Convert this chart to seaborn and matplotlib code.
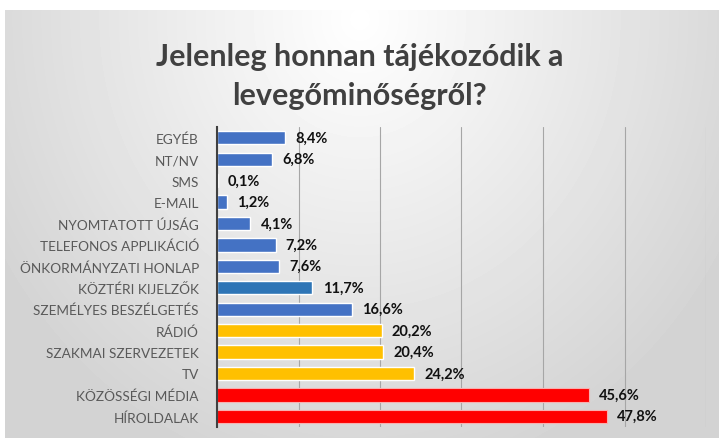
import numpy as np
import pandas as pd
import matplotlib.pyplot as plt
import seaborn as sns

# Survey data (top to bottom, as shown)
categories = ["EGYÉB", "NT/NV", "SMS", "E-MAIL", "NYOMTATOTT ÚJSÁG",
              "TELEFONOS APPLIKÁCIÓ", "ÖNKORMÁNYZATI HONLAP", "KÖZTÉRI KIJELZŐK",
              "SZEMÉLYES BESZÉLGETÉS", "RÁDIÓ", "SZAKMAI SZERVEZETEK", "TV",
              "KÖZÖSSÉGI MÉDIA", "HÍROLDALAK"]
values = [8.4, 6.8, 0.1, 1.2, 4.1, 7.2, 7.6, 11.7, 16.6, 20.2, 20.4, 24.2, 45.6, 47.8]
bar_colors = ["#4472C4"] * 7 + ["#2E75B6", "#4472C4"] + ["#FFC000"] * 3 + ["#FF0000"] * 2

df = pd.DataFrame({"kategoria": categories, "arany": values})

sns.set_theme(style="white")
plt.rcParams["font.family"] = ["Lato", "DejaVu Sans"]

fig = plt.figure(figsize=(7.19, 4.39), dpi=100)

# gray gradient background of the chart frame
bg = fig.add_axes([0, 0, 1, 1], zorder=-10)
h, w = 439, 719
yy, xx = np.mgrid[0:h, 0:w]
dist = np.sqrt(((xx - w * 0.5) / (w * 0.55)) ** 2 + ((yy - 20) / (h * 1.0)) ** 2)
shade = np.clip(1.0 - 0.16 * dist, 0.83, 1.0)
shade[:11, :] = 1.0
shade[:, :5] = 1.0
bg.imshow(shade, cmap="gray", vmin=0, vmax=1, aspect="auto", interpolation="bilinear")
bg.axis("off")

ax = fig.add_axes([217 / 719, 1 - 428 / 439, (706 - 217) / 719, (428 - 128) / 439])
ax.patch.set_alpha(0)

sns.barplot(data=df, x="arany", y="kategoria", hue="kategoria", palette=bar_colors,
            saturation=1, legend=False, width=0.62, ax=ax, orient="h")

for bar, col in zip(ax.patches, bar_colors):
    if col == "#FF0000":
        bar.set_edgecolor("#F8B0B0")
        bar.set_linewidth(0.8)

ax.set_xlim(0, 60)
ax.set_xticks(np.arange(0, 61, 10))
ax.set_xticklabels([])
ax.tick_params(axis="x", length=0)
ax.tick_params(axis="y", length=0, pad=13, labelsize=9.8, labelcolor="#595959")
ax.grid(axis="x", color="#A6A6A6", linewidth=0.8)
ax.set_axisbelow(True)
for side in ["top", "right", "bottom"]:
    ax.spines[side].set_visible(False)
ax.spines["left"].set_color("#404040")
ax.spines["left"].set_linewidth(1.5)
ax.set_xlabel("")
ax.set_ylabel("")

for i, v in enumerate(values):
    ax.text(v + 1.25, i, f"{v:.1f}%".replace(".", ","), va="center", ha="left",
            fontsize=10.5, fontweight="bold", color="#111111")

fig.text(0.5, 0.826, "Jelenleg honnan tájékozódik a\nlevegőminőségről?", ha="center",
         va="center", fontsize=22, fontweight="bold", color="#404040", linespacing=1.45)

fig.savefig("out.png", dpi=100)
